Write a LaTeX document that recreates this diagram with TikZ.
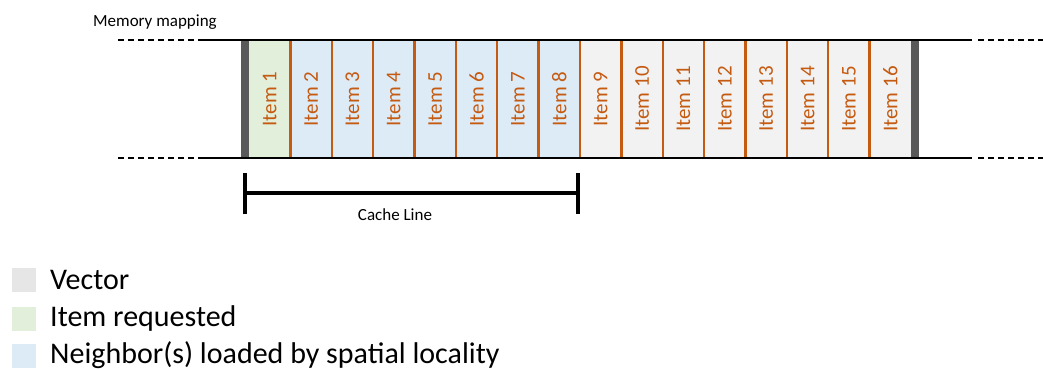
\documentclass[tikz,border=0pt]{standalone}
\usepackage{fontspec}
\setmainfont{Carlito}
\definecolor{itemorange}{HTML}{C55A11}
\definecolor{vecgray}{HTML}{F2F2F2}
\definecolor{leggray}{HTML}{E7E6E6}
\definecolor{reqgreen}{HTML}{E2EFDA}
\definecolor{nbblue}{HTML}{DDEBF7}
\definecolor{bargray}{HTML}{595959}
\begin{document}
\begin{tikzpicture}[x=1pt,y=-1pt,
  cell/.style={draw=none,minimum width=41.375pt,minimum height=118pt,inner sep=0pt,outer sep=0pt},
  itemtxt/.style={rotate=90,text=itemorange,font=\fontsize{21}{25}\selectfont,inner sep=0pt},
  divider/.style={draw=itemorange,line width=2.4pt},
  rail/.style={draw=black,line width=1.5pt},
  railcut/.style={draw=black,line width=1.5pt,dash pattern=on 6pt off 4pt},
  endbar/.style={fill=bargray,draw=none},
  span/.style={draw=black,line width=3.5pt},
  lbl/.style={font=\fontsize{17}{20}\selectfont,inner sep=0pt},
  legtxt/.style={font=\fontsize{30}{35}\selectfont,inner sep=0pt,anchor=base west},
  legbox/.style={draw=none,minimum width=24pt,minimum height=24pt,inner sep=0pt}]
\useasboundingbox (0,0) rectangle (1043,369);

% title
\node[lbl,anchor=base west] (title) at (93,27) {Memory mapping};

% vector cells
\foreach \i in {1,...,16}{
  \pgfmathsetmacro{\cx}{249+(\i-0.5)*41.375}
  \ifnum\i=1 \def\cfill{reqgreen}\else
    \ifnum\i<9 \def\cfill{nbblue}\else \def\cfill{vecgray}\fi\fi
  \node[cell,fill=\cfill] (c\i) at (\cx,99) {};
  \node[itemtxt] at (c\i.center) {Item \i};
}
\foreach \i in {1,...,15}{
  \draw[divider] (c\i.north east) -- (c\i.south east);
}

% end bars
\node[endbar,minimum width=8pt,minimum height=118pt,inner sep=0pt,anchor=east] (lbar) at (c1.west) {};
\node[endbar,minimum width=8pt,minimum height=118pt,inner sep=0pt,anchor=west] (rbar) at (c16.east) {};

% rails
\coordinate (tl) at (198,40);
\coordinate (tr) at (972,40);
\coordinate (bl) at (198,158);
\coordinate (br) at (972,158);
\coordinate (tll) at (118,40);
\coordinate (trr) at (1043,40);
\coordinate (bll) at (118,158);
\coordinate (brr) at (1043,158);
\draw[rail] (tl) -- (tr);
\draw[rail] (bl) -- (br);
\draw[railcut] (tll) -- (tl);
\draw[railcut] (bll) -- (bl);
\draw[railcut] ([xshift=6pt]tr) -- (trr);
\draw[railcut] ([xshift=6pt]br) -- (brr);

% cache line span
\coordinate (cl) at (245,193);
\coordinate (cr) at (578,193);
\draw[span] (cl) -- (cr);
\draw[span] ([yshift=-21pt]cl) -- ([yshift=20pt]cl);
\draw[span] ([yshift=-21pt]cr) -- ([yshift=20pt]cr);
\node[lbl,anchor=base] (cltxt) at (395,220) {Cache Line};

% legend
\node[legbox,fill=leggray,anchor=north west] (k1) at (12,268) {};
\node[legbox,fill=reqgreen,anchor=north west] (k2) at (12,307) {};
\node[legbox,fill=nbblue,anchor=north west] (k3) at (12,344) {};
\node[legtxt] (t1) at (50,289) {Vector};
\node[legtxt] (t2) at (50,326) {Item requested};
\node[legtxt] (t3) at (50,363) {Neighbor(s) loaded by spatial locality};
\end{tikzpicture}
\end{document}
